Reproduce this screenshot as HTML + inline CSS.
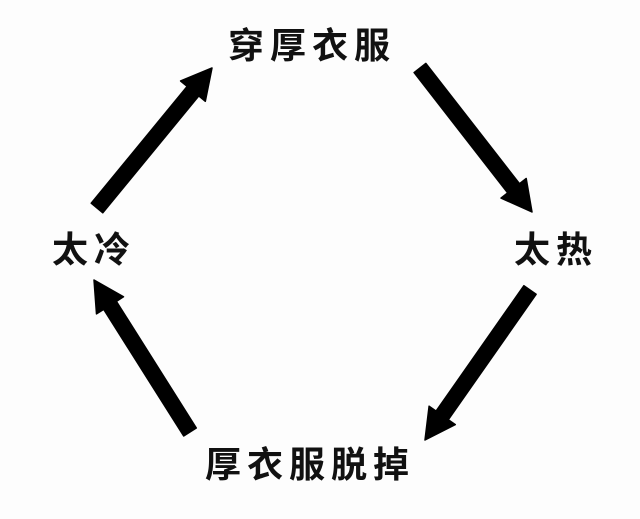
<!DOCTYPE html>
<html><head><meta charset="utf-8"><style>
body{margin:0;background:#fdfdfd;width:640px;height:519px;overflow:hidden;position:relative;font-family:"Liberation Sans","Noto Sans CJK SC",sans-serif;}
.t{position:absolute;font-size:36px;font-weight:bold;letter-spacing:6px;color:#111;white-space:nowrap;line-height:1;}
svg{position:absolute;left:0;top:0}
</style></head><body>
<svg id="s" width="640" height="519"></svg>
<div class="t" style="left:228px;top:28px">穿厚衣服</div>
<div class="t" style="left:52px;top:232px">太冷</div>
<div class="t" style="left:514px;top:232px">太热</div>
<div class="t" style="left:205px;top:447px">厚衣服脱掉</div>
<script>
var arrows=[[97,208,212,68],[420,68,532,212],[530,290,425,440],[190,432,94,280]];
var s=document.getElementById('s'),h='';
arrows.forEach(function(a){
 var dx=a[2]-a[0],dy=a[3]-a[1],L=Math.hypot(dx,dy),ux=dx/L,uy=dy/L,px=-uy,py=ux;
 var hl=30,hw=16,w=7.5;
 var bx=a[2]-ux*hl,by=a[3]-uy*hl;
 var p=[[a[0]+px*w,a[1]+py*w],[bx+px*w,by+py*w],[bx+px*hw,by+py*hw],[a[2],a[3]],[bx-px*hw,by-py*hw],[bx-px*w,by-py*w],[a[0]-px*w,a[1]-py*w]];
 h+='<polygon fill="#000" stroke="#000" stroke-width="1.5" stroke-linejoin="round" points="'+p.map(function(q){return q[0].toFixed(1)+','+q[1].toFixed(1)}).join(' ')+'"/>';
});
s.innerHTML=h;
</script>
</body></html>
